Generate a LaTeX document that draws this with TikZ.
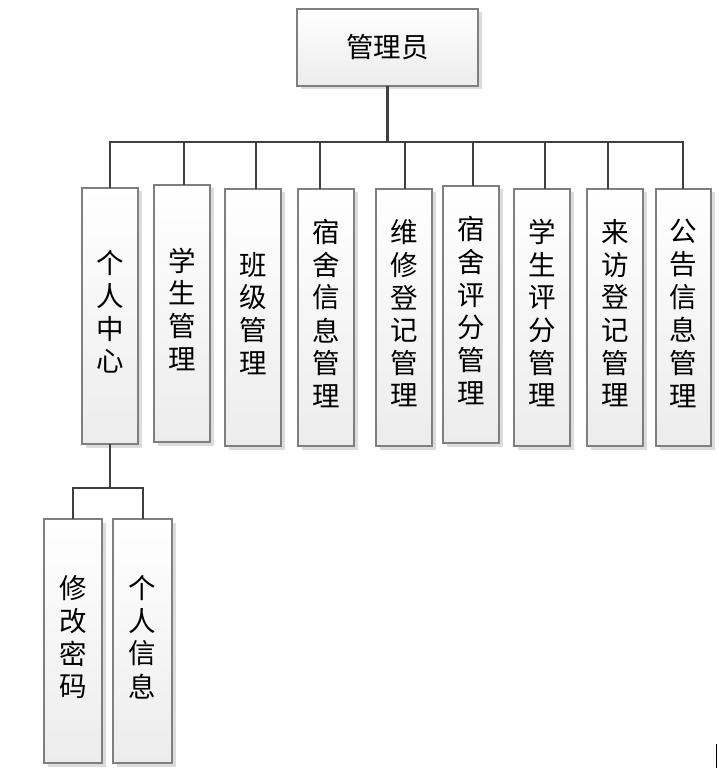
\documentclass[tikz,border=0pt]{standalone}
\usepackage{fontspec}
\setmainfont{Noto Sans CJK SC}
\usetikzlibrary{shadows}
\definecolor{linegray}{HTML}{404040}
\definecolor{bordergray}{HTML}{7F7F7F}
\definecolor{shadowgray}{HTML}{DCDCDC}
\definecolor{boxbottom}{HTML}{ECECEC}
\newcommand{\vtext}[1]{\begin{tabular}{@{}c@{}}#1\end{tabular}}
\tikzset{
  box/.style={draw=bordergray, line width=1.1pt, top color=white, bottom color=boxbottom,
    inner sep=0pt, outer sep=0pt, font=\fontsize{27.5}{32.5}\selectfont,
    drop shadow={shadow xshift=3.5pt, shadow yshift=-3.5pt, fill=shadowgray, opacity=1}},
  colbox/.style={box, minimum width=56pt, minimum height=257pt},
  subbox/.style={box, minimum width=58pt, minimum height=244pt},
  conn/.style={draw=linegray, line width=2.4pt}
}
\begin{document}
\begin{tikzpicture}[x=1pt,y=1pt]
\useasboundingbox (0,0) rectangle (718,-775);
\fill[white] (0,0) rectangle (718,-775);
\node[box, minimum width=181pt, minimum height=77pt] (root) at (387.5,-47.5) {管理员};
\node[colbox, minimum height=256pt] (a1) at (110,-316) {\vtext{个\\人\\中\\心}};
\node[colbox] (a2) at (182,-313.5) {\vtext{学\\生\\管\\理}};
\node[colbox] (a3) at (253,-317.5) {\vtext{班\\级\\管\\理}};
\node[colbox] (a4) at (326,-317.5) {\vtext{宿\\舍\\信\\息\\管\\理}};
\node[colbox] (a5) at (404,-317.5) {\vtext{维\\修\\登\\记\\管\\理}};
\node[colbox] (a6) at (471,-314.5) {\vtext{宿\\舍\\评\\分\\管\\理}};
\node[colbox] (a7) at (542,-317.5) {\vtext{学\\生\\评\\分\\管\\理}};
\node[colbox] (a8) at (615,-317.5) {\vtext{来\\访\\登\\记\\管\\理}};
\node[colbox, minimum width=55pt] (a9) at (683.5,-317.5) {\vtext{公\\告\\信\\息\\管\\理}};
\node[subbox] (b1) at (73,-641) {\vtext{修\\改\\密\\码}};
\node[subbox, minimum width=59pt] (b2) at (142.5,-641) {\vtext{个\\人\\信\\息}};
\coordinate (bus) at (0,-142);
\coordinate (sub) at (0,-488);
\draw[conn] (root.south) -- (root.south |- bus) -| (a1.north);
\draw[conn] (root.south) -- (root.south |- bus) -| ([xshift=2pt]a2.north);
\draw[conn] (root.south) -- (root.south |- bus) -| ([xshift=3pt]a3.north);
\draw[conn] (root.south) -- (root.south |- bus) -| ([xshift=-6pt]a4.north);
\draw[conn] (root.south) -- (root.south |- bus) -| ([xshift=1pt]a5.north);
\draw[conn] (root.south) -- (root.south |- bus) -| ([xshift=2pt]a6.north);
\draw[conn] (root.south) -- (root.south |- bus) -| ([xshift=3pt]a7.north);
\draw[conn] (root.south) -- (root.south |- bus) -| ([xshift=-7pt]a8.north);
\draw[conn] (root.south) -- (root.south |- bus) -| ([xshift=-0.5pt]a9.north);
\draw[conn] (a1.south) -- (a1.south |- sub) -| (b1.north);
\draw[conn] (a1.south) -- (a1.south |- sub) -| ([xshift=0.5pt]b2.north);
\draw[black, line width=1pt] (716,-744) -- (716,-768);
\end{tikzpicture}
\end{document}
